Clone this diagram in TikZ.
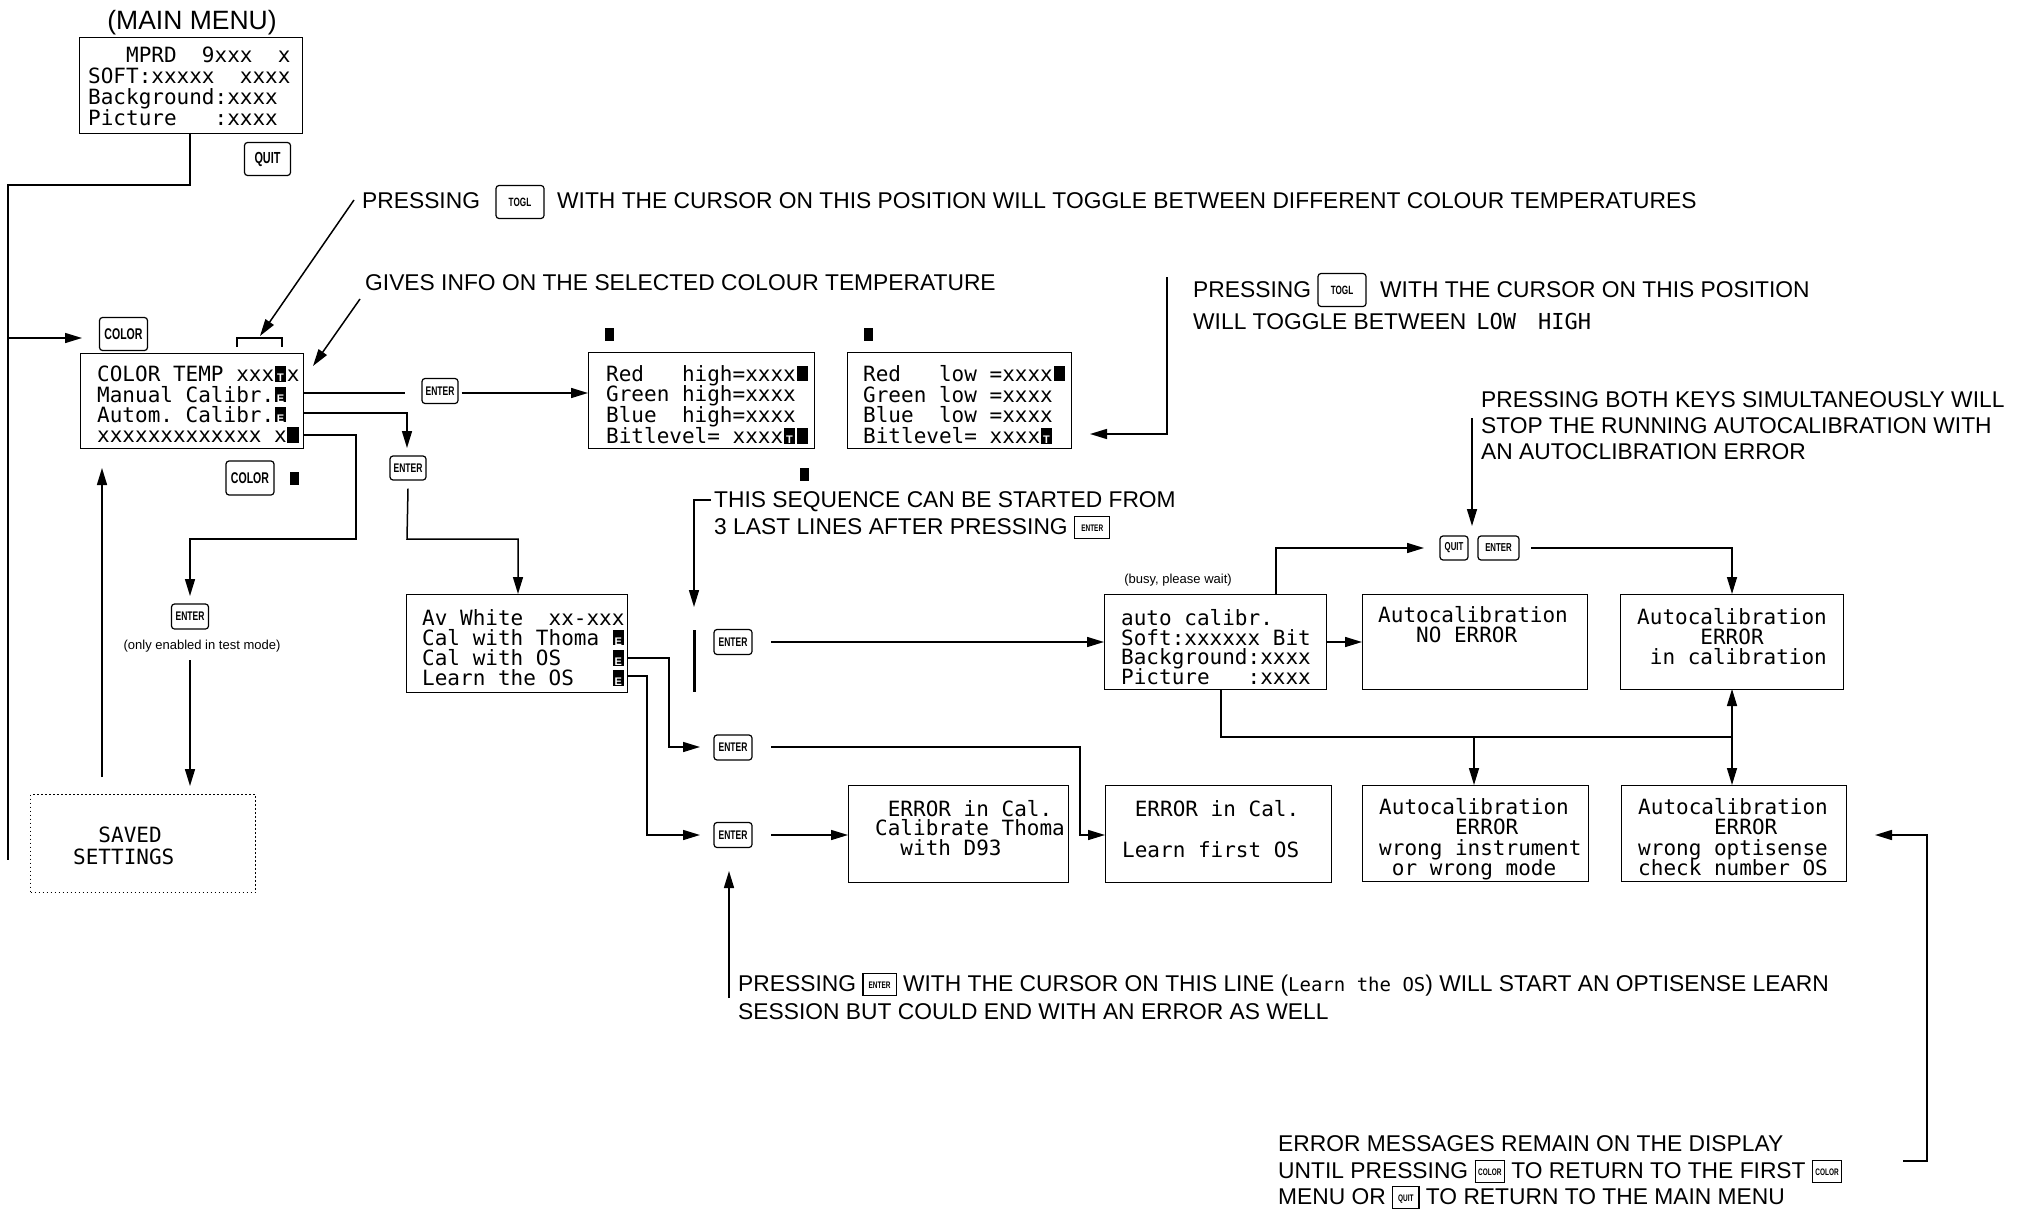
\documentclass[tikz,border=0pt]{standalone}
\usepackage{fontspec}
\setmainfont{Liberation Sans}
\setmonofont{DejaVu Sans Mono}
\newfontfamily\keyfamily[FakeStretch=0.68]{Liberation Sans}
\usetikzlibrary{arrows.meta}

% display font (monospaced LCD lines), key-cap font, note fonts
\newcommand\lcdf[2]{\ttfamily\fontsize{#1}{#2}\selectfont\lineskiplimit=-100pt\relax}
\newcommand\kf[1]{\keyfamily\bfseries\fontsize{#1}{#1}\selectfont}
\newcommand\notefont{\fontsize{22.8}{26}\selectfont}
\newcommand\smallnote{\fontsize{13}{15}\selectfont}
% inverted character cell of the display
\newcommand\blk[1]{\makebox[0.602em][c]{\rlap{\rule{0.54em}{0.74em}}\makebox[0.54em][c]{\textcolor{white}{\rmfamily\bfseries\fontsize{11}{11}\selectfont#1}}}}
% key drawn inside a line of text
\newcommand\ikey[2]{\raisebox{-4pt}{\setlength\fboxsep{0pt}\setlength\fboxrule{1.2pt}\fbox{\makebox[#1][c]{\rule{0pt}{21pt}\raisebox{6.5pt}{\kf{9.5}#2}}}}}

\begin{document}
\begin{tikzpicture}[x=1pt,y=-1pt,
  lcdbox/.style={draw, line width=1.4pt, inner sep=0pt, anchor=north west},
  lcdtext/.style={anchor=north west, inner sep=0pt, align=left, font=\lcdf{21}{20.5},
    execute at begin node={\rule{0pt}{16.4pt}}},
  keycap/.style={draw, line width=1.2pt, rounded corners=3pt, inner sep=0pt},
  cursorblk/.style={fill=black, inner sep=0pt, minimum width=9pt, minimum height=13pt},
  note/.style={anchor=base west, inner sep=0pt, font=\notefont},
  conn/.style={line width=1.5pt},
  arr/.style={conn, -{Triangle[length=17pt,width=10pt]}}
]
\path[fill=white, use as bounding box] (0,0) rectangle (2037,1209);

% ---------------- main menu ----------------
\node[anchor=base, inner sep=0pt, font=\fontsize{26.5}{28}\selectfont] (title) at (192,30) {(MAIN MENU)};
\node[lcdbox, minimum width=223pt, minimum height=96pt] (mm) at (79,37) {};
\node[lcdtext, font=\lcdf{21}{21}] (mmT) at (88,47) {~~~MPRD~~9xxx~~x\\SOFT:xxxxx~~xxxx\\Background:xxxx\\Picture~~~:xxxx};
\node[keycap, minimum width=46pt, minimum height=33pt, font=\kf{16}] (kquit) at (267.5,159) {QUIT};

% ---------------- colour temperature menu ----------------
\node[keycap, minimum width=48pt, minimum height=33pt, font=\kf{15.5}] (kcol1) at (123.5,334) {COLOR};
\node[lcdbox, minimum width=223pt, minimum height=95pt] (ct) at (80,353) {};
\node[lcdtext, font=\lcdf{21}{20.3}] (ctT) at (97,366) {COLOR~TEMP~xxx\blk{T}x\\Manual~Calibr.\blk{E}\\Autom.~Calibr.\blk{E}\\xxxxxxxxxxxxx~x\blk{}};
\node[keycap, minimum width=48pt, minimum height=34pt, font=\kf{15.5}] (kcol2) at (250,478) {COLOR};
\node[cursorblk] (cb0) at (294,478) {};

% bracket over the toggle position
\draw[conn] (237,347) -- (237,338) -- (282,338) -- (282,347);

% ---------------- high / low level displays ----------------
\node[cursorblk] (cb1) at (609,334) {};
\node[lcdbox, minimum width=226pt, minimum height=96pt] (rh) at (588,352) {};
\node[lcdtext, font=\lcdf{21}{20.8}] (rhT) at (606,365) {Red~~~high=xxxx\blk{}\\Green~high=xxxx\\Blue~~high=xxxx\\Bitlevel=~xxxx\blk{T}\blk{}};
\node[cursorblk] (cb2) at (868,334) {};
\node[lcdbox, minimum width=224pt, minimum height=96pt] (rl) at (847,352) {};
\node[lcdtext, font=\lcdf{21}{20.8}] (rlT) at (863,365) {Red~~~low~=xxxx\blk{}\\Green~low~=xxxx\\Blue~~low~=xxxx\\Bitlevel=~xxxx\blk{T}};

% ---------------- keys ----------------
\node[keycap, minimum width=36pt, minimum height=25pt, font=\kf{12.5}] (kent1) at (440,391) {ENTER};
\node[keycap, minimum width=36pt, minimum height=24pt, font=\kf{12.5}] (kent2) at (408,468) {ENTER};
\node[keycap, minimum width=37pt, minimum height=25pt, font=\kf{12.5}] (kent3) at (190,616.5) {ENTER};
\node[keycap, minimum width=38pt, minimum height=25pt, font=\kf{12.5}] (kent4) at (733,642) {ENTER};
\node[keycap, minimum width=38pt, minimum height=25pt, font=\kf{12.5}] (kent5) at (733,747.5) {ENTER};
\node[keycap, minimum width=38pt, minimum height=25pt, font=\kf{12.5}] (kent6) at (733,835) {ENTER};
\node[keycap, minimum width=28pt, minimum height=24pt, font=\kf{11.5}] (kquit2) at (1454,548) {QUIT};
\node[keycap, minimum width=41pt, minimum height=24pt, font=\kf{11.5}] (kent7) at (1498.5,548) {ENTER};

% ---------------- calibration menu and results ----------------
\node[lcdbox, minimum width=221pt, minimum height=98pt] (aw) at (406,594) {};
\node[lcdtext, font=\lcdf{21}{20.2}] (awT) at (422,609) {Av~White~~xx-xxx\\Cal~with~Thoma~\blk{E}\\Cal~with~OS~~~~\blk{E}\\Learn~the~OS~~~\blk{E}};

\node[anchor=center, inner sep=0pt, font=\smallnote] (busy) at (1178,580) {(busy, please wait)};
\node[lcdbox, minimum width=222pt, minimum height=95pt] (ac) at (1104,594) {};
\node[lcdtext, font=\lcdf{21}{19.8}] (acT) at (1121,609) {auto~calibr.\\Soft:xxxxxx~Bit\\Background:xxxx\\Picture~~~:xxxx};
\node[lcdbox, minimum width=225pt, minimum height=95pt] (ne) at (1362,594) {};
\node[lcdtext, font=\lcdf{21}{19.5}] (neT) at (1378,606.5) {Autocalibration\\~~~NO~ERROR};
\node[lcdbox, minimum width=223pt, minimum height=95pt] (ic) at (1620,594) {};
\node[lcdtext, font=\lcdf{21}{20}] (icT) at (1637,608) {Autocalibration\\~~~~~ERROR\\~in~calibration};

\node[lcdbox, minimum width=220pt, minimum height=97pt] (e1) at (848,785) {};
\node[lcdtext, font=\lcdf{21}{19.5}] (e1T) at (875,800) {~ERROR~in~Cal.\\Calibrate~Thoma\\~~with~D93};
\node[lcdbox, minimum width=226pt, minimum height=97pt] (e2) at (1105,785) {};
\node[lcdtext, font=\lcdf{21}{20.5}] (e2T) at (1122,800) {~ERROR~in~Cal.\\~\\Learn~first~OS};
\node[lcdbox, minimum width=226pt, minimum height=96pt] (e3) at (1362,785) {};
\node[lcdtext, font=\lcdf{21}{20.5}] (e3T) at (1379,798) {Autocalibration\\~~~~~~ERROR\\wrong~instrument\\~or~wrong~mode};
\node[lcdbox, minimum width=225pt, minimum height=96pt] (e4) at (1621,785) {};
\node[lcdtext, font=\lcdf{21}{20.5}] (e4T) at (1638,798) {Autocalibration\\~~~~~~ERROR\\wrong~optisense\\check~number~OS};

% ---------------- saved settings ----------------
\node[anchor=center, inner sep=0pt, font=\smallnote] (only) at (202,646) {(only enabled in test mode)};
\node[draw, line width=1.2pt, dash pattern=on 1.5pt off 2.5pt, inner sep=0pt, anchor=north west,
  minimum width=225pt, minimum height=98pt] (sv) at (30,794) {};
\node[lcdtext, font=\lcdf{21}{21.5}] (svT) at (73,827) {~~SAVED\\SETTINGS};

% ---------------- notes ----------------
\node[note] (t1a) at (362,208) {PRESSING};
\node[keycap, minimum width=48pt, minimum height=33pt, font=\kf{12}] (ktog1) at (520,202) {TOGL};
\node[note] (t1b) at (557,208) {WITH THE CURSOR ON THIS POSITION WILL TOGGLE BETWEEN DIFFERENT COLOUR TEMPERATURES};
\node[note] (t2) at (365,290) {GIVES INFO ON THE SELECTED COLOUR TEMPERATURE};

\node[note] (t3a) at (1193,297) {PRESSING};
\node[keycap, minimum width=48pt, minimum height=33pt, font=\kf{12}] (ktog2) at (1342,290) {TOGL};
\node[note] (t3b) at (1380,297) {WITH THE CURSOR ON THIS POSITION};
\node[note] (t3c) at (1193,329) {WILL TOGGLE BETWEEN\hspace{10pt}{\lcdf{22}{22}LOW\hspace{22pt}HIGH}};

\node[note] (t4a) at (1481,407) {PRESSING BOTH KEYS SIMULTANEOUSLY WILL};
\node[note] (t4b) at (1481,433) {STOP THE RUNNING AUTOCALIBRATION WITH};
\node[note] (t4c) at (1481,459) {AN AUTOCLIBRATION ERROR};

\node[cursorblk] (cb3) at (804,474) {};
\node[note] (t5a) at (714,507) {THIS SEQUENCE CAN BE STARTED FROM};
\node[note] (t5b) at (714,534) {3 LAST LINES AFTER PRESSING \ikey{34pt}{ENTER}};

\node[note] (t6a) at (738,991) {PRESSING \ikey{32pt}{ENTER} WITH THE CURSOR ON THIS LINE ({\lcdf{19}{19}Learn~the~OS}) WILL START AN OPTISENSE LEARN};
\node[note] (t6b) at (738,1019) {SESSION BUT COULD END WITH AN ERROR AS WELL};

\node[note] (t7a) at (1278,1151) {ERROR MESSAGES REMAIN ON THE DISPLAY};
\node[note] (t7b) at (1278,1178) {UNTIL PRESSING \ikey{28pt}{COLOR} TO RETURN TO THE FIRST \ikey{28pt}{COLOR}};
\node[note] (t7c) at (1278,1204) {MENU OR \ikey{25pt}{QUIT} TO RETURN TO THE MAIN MENU};

% ---------------- connectors ----------------
% back to the main menu / into the colour menu
\draw[conn] (190,133) -- (190,185) -- (8,185) -- (8,860);
\coordinate (colIn) at (82,338);
\draw[arr] (8,338) -- (colIn);
\draw[arr] (102,777) -- (102,468);

% pointers from the notes
\draw[arr] (354,200) -- (260,336);
\draw[arr] (360,299) -- (313,366);
\draw[arr] (1167,277) -- (1167,434) -- (1090,434);
\draw[arr] (1472,418) -- (1472,526);

% manual calibration
\draw[conn] (303,393) -- (405,393);
\draw[arr] (kent1.east) ++(3,2) -- (588,393);
% automatic calibration
\draw[arr] (303,413) -- (407,413) -- (407,448);
\draw[arr] (kent2.south) ++(0,8) -- (407,539) -- (518,539) -- (aw.north -| 518,0);
% last line: saved settings
\draw[arr] (303,435) -- (356,435) -- (356,539) -- (190,539) -- (190,596);
\draw[arr] (190,660) -- (190,786);

% sequence start
\draw[arr] (711,500) -- (694,500) -- (694,607);
\draw[line width=3pt] (694,630) -- (694,692);
\draw[arr] (771,642) -- (ac.west |- 0,642);
\draw[arr] (771,747) -- (1080,747) -- (1080,835) -- (e2.west |- 0,835);
\draw[arr] (771,835) -- (e1.west |- 0,835);
\draw[arr] (628,658) -- (669,658) -- (669,747) -- (700,747);
\draw[arr] (628,676) -- (647,676) -- (647,835) -- (700,835);
\draw[arr] (729,998) -- (729,871);

% autocalibration results
\draw[arr] (ac.east |- 0,642) -- (ne.west |- 0,642);
\draw[arr] (1276,594) -- (1276,548) -- (1424,548);
\draw[arr] (1531,548) -- (1732,548) -- (1732,594);
\draw[conn] (1221,689) -- (1221,737) -- (1732,737);
\draw[arr] (1474,737) -- (1474,785);
\draw[arr] (1732,737) -- (1732,689);
\draw[arr] (1732,737) -- (1732,785);
\draw[arr] (1903,1161) -- (1927,1161) -- (1927,835) -- (1875,835);
\end{tikzpicture}
\end{document}
